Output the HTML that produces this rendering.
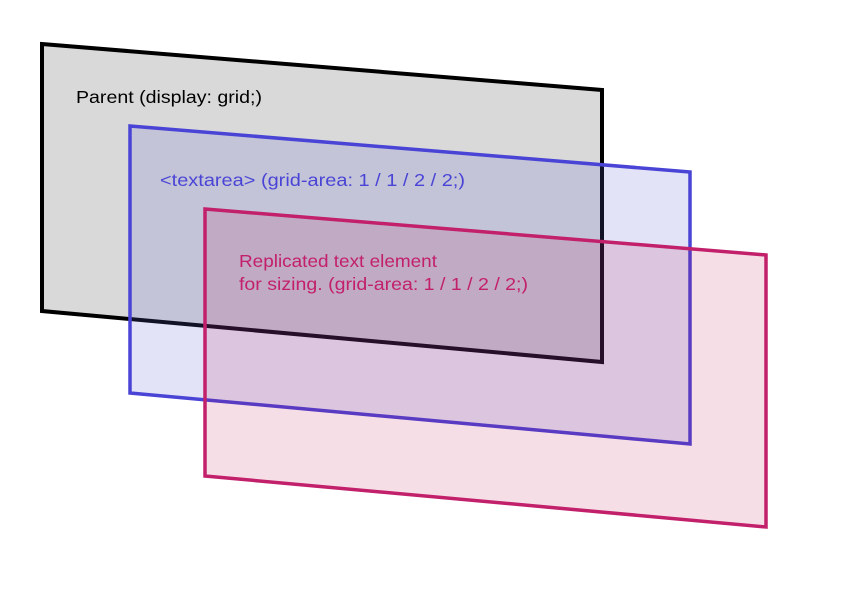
<!DOCTYPE html>
<html><head><style>
html,body{margin:0;padding:0;background:#fff;}
svg{display:block;}
text{font-family:"Liberation Sans",Arial,sans-serif;font-size:17.5px;}
</style></head><body>
<svg width="841" height="600" viewBox="0 0 841 600" xmlns="http://www.w3.org/2000/svg">
<rect width="841" height="600" fill="#fff"/>
<polygon points="42,44 602,90 602,362 42,311" fill="#d9d9d9" stroke="#000" stroke-width="4"/>
<text x="76" y="103" fill="#000" textLength="186" lengthAdjust="spacingAndGlyphs">Parent (display: grid;)</text>
<polygon points="130,126 690,172 690,444 130,393" fill="rgb(94,100,211)" fill-opacity="0.18" stroke="#4a44d6" stroke-width="3.5"/>
<text x="160" y="186" fill="#4a44d6" textLength="305" lengthAdjust="spacingAndGlyphs">&lt;textarea&gt; (grid-area: 1 / 1 / 2 / 2;)</text>
<polygon points="205,209 766,255 766,527 205,476" fill="rgb(185,0,62)" fill-opacity="0.13" stroke="#c2206a" stroke-width="3.5"/>
<text x="239" y="267" fill="#c2206a" textLength="198" lengthAdjust="spacingAndGlyphs">Replicated text element</text>
<text x="239" y="290" fill="#c2206a" textLength="289" lengthAdjust="spacingAndGlyphs">for sizing.  (grid-area: 1 / 1 / 2 / 2;)</text>
</svg>
</body></html>
